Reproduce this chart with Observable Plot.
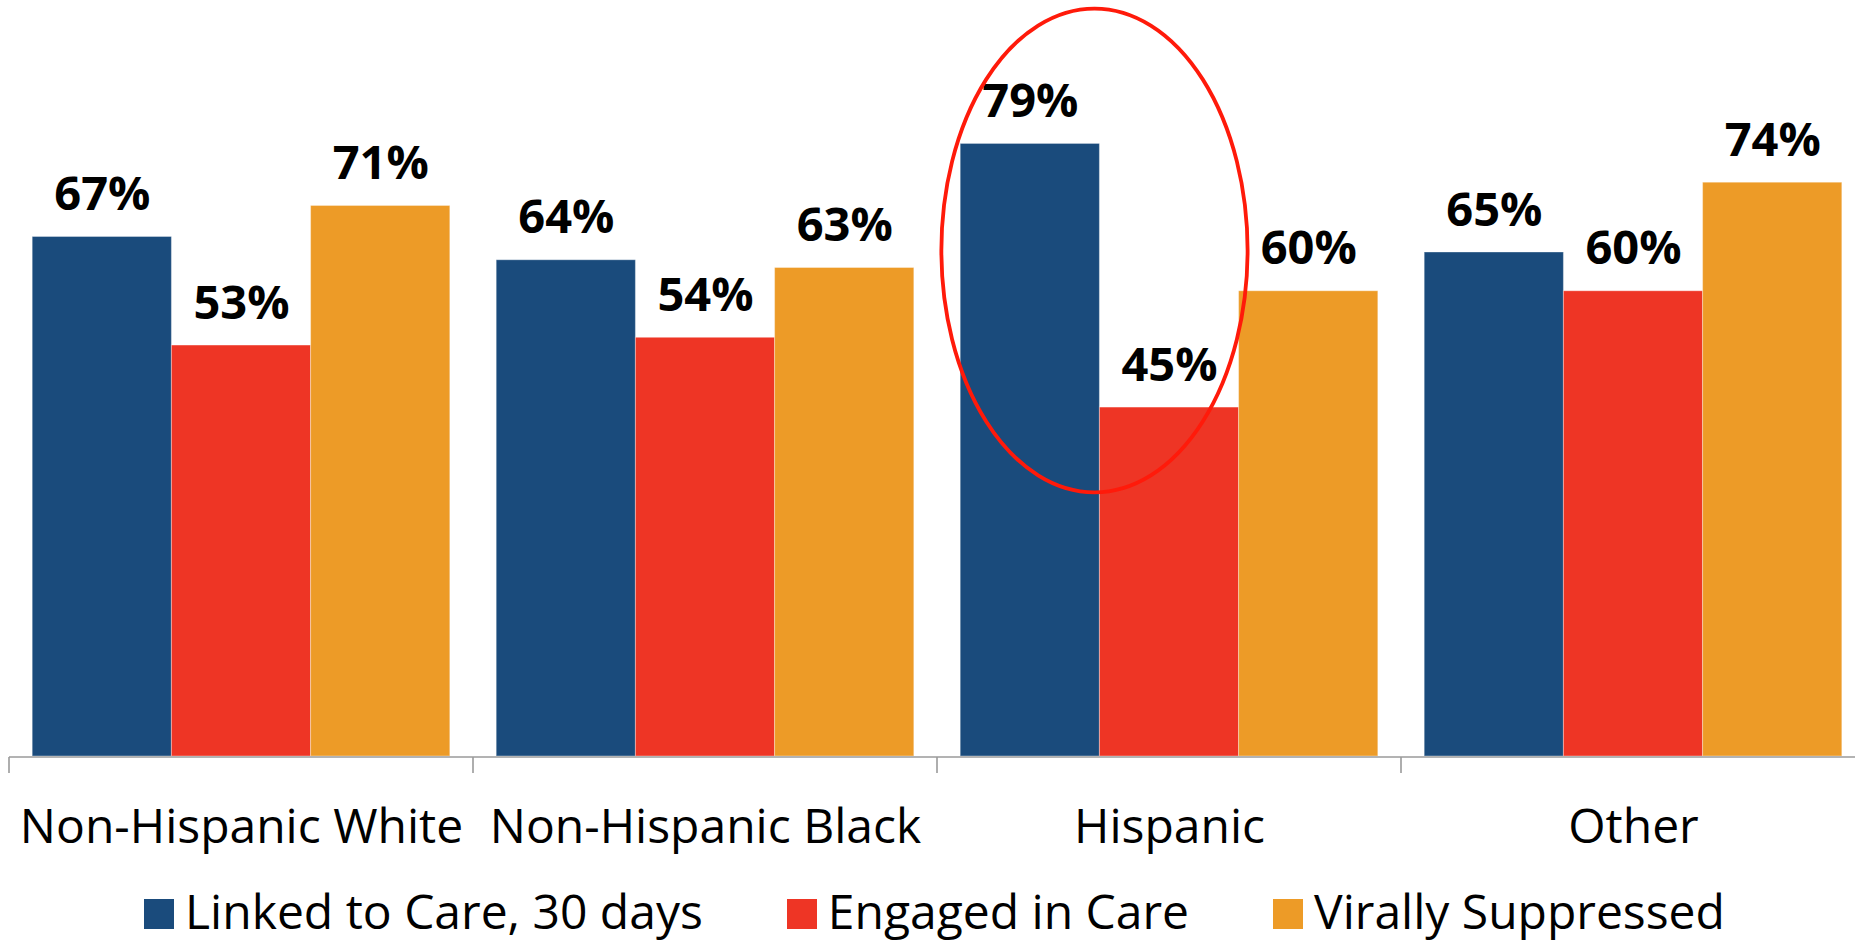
<!DOCTYPE html>
<html>
<head>
<meta charset="utf-8">
<script src="https://cdn.jsdelivr.net/npm/d3@7"></script>
<script src="https://cdn.jsdelivr.net/npm/@observablehq/plot@0.6"></script>
<style>
  html, body { margin: 0; padding: 0; background: #fff; overflow: hidden; width: 1855px; }
  #chart { width: 1855px; overflow: hidden; }
  #chart svg { max-width: none !important; }
  #legend { display: flex; justify-content: center; align-items: baseline; gap: 0; font-family: "Open Sans", sans-serif; font-size: 48px; color: #000; width: 1855px; box-sizing: border-box; padding-left: 14px; line-height: normal; }
  .item { display: inline-flex; align-items: baseline; margin: 0 42px; }
  .sw { display: inline-block; width: 30px; height: 30px; margin-right: 11px; }
</style>
</head>
<body>
<div id="chart"></div>
<div id="legend"></div>
<script>
const groups = ["Non-Hispanic White", "Non-Hispanic Black", "Hispanic", "Other"];
const seriesNames = ["Linked to Care, 30 days", "Engaged in Care", "Virally Suppressed"];
const linkedToCare = [67, 64, 79, 65];
const engagedInCare = [53, 54, 45, 60];
const viralSuppressed = [71, 63, 60, 74];
const seriesColors = ["#1a4b7c", "#ee3525", "#ed9b27"];
// highlighted group (annotation ellipse), vertical extent in percent
const highlightGroup = "Hispanic";
const highlightRange = [34, 96.4];

const seriesValues = [linkedToCare, engagedInCare, viralSuppressed];
const data = [];
groups.forEach((g, i) => seriesNames.forEach((s, j) => data.push({group: g, series: s, value: seriesValues[j][i]})));

const W = 1866, H = 878;
const plot = Plot.plot({
  width: W,
  height: H,
  marginLeft: 9,
  marginRight: 1,
  marginTop: 0,
  marginBottom: 122,
  style: {fontFamily: "Open Sans", background: "#fff", overflow: "visible", maxWidth: "none"},
  fx: {domain: groups, paddingInner: 0.1, paddingOuter: 0.05, round: false, label: null},
  x: {domain: seriesNames, padding: 0, round: false, axis: null},
  y: {domain: [0, 97.5], axis: null},
  color: {domain: seriesNames, range: seriesColors},
  marks: [
    Plot.barY(data, {fx: "group", x: "series", y: "value", fill: "series", stroke: "#fff", strokeOpacity: 0.35, strokeWidth: 1}),
    Plot.text(data, {fx: "group", x: "series", y: "value", text: d => d.value + "%", dy: -27, lineAnchor: "bottom", fontSize: 47, fontWeight: "bold", fill: "#000"}),
    Plot.axisFx({anchor: "bottom", tickSize: 0, tickPadding: 52, fontSize: 48, fill: "#000", label: null})
  ]
});
document.getElementById("chart").appendChild(plot);

// axis line, group boundary ticks and highlight ellipse, placed with the plot's own scales
const fx = plot.scale("fx"), x = plot.scale("x"), y = plot.scale("y");
const svg = d3.select(plot);
const y0 = y.apply(0);
const half = fx.step * fx.paddingInner / 2;
svg.append("line").attr("x1", fx.apply(groups[0]) - half).attr("x2", W).attr("y1", y0 + 1).attr("y2", y0 + 1).attr("stroke", "#9a9a9a").attr("stroke-width", 1.6);
groups.forEach(g => {
  const bx = fx.apply(g) - half;
  svg.append("line").attr("x1", bx).attr("x2", bx).attr("y1", y0 + 1).attr("y2", y0 + 17).attr("stroke", "#9a9a9a").attr("stroke-width", 1.6);
});
const cx = fx.apply(highlightGroup) + x.apply(seriesNames[1]) - 0.1 * x.bandwidth;
const cy = (y.apply(highlightRange[0]) + y.apply(highlightRange[1])) / 2;
const ry = (y.apply(highlightRange[0]) - y.apply(highlightRange[1])) / 2;
svg.append("ellipse").attr("cx", cx).attr("cy", cy).attr("rx", 1.1 * x.bandwidth).attr("ry", ry).attr("fill", "none").attr("stroke", "#ff1a0a").attr("stroke-width", 3.8);

const legend = d3.select("#legend");
seriesNames.forEach((s, i) => {
  const it = legend.append("span").attr("class", "item");
  it.append("span").attr("class", "sw").style("background", seriesColors[i]);
  it.append("span").text(s);
});
</script>
</body>
</html>
